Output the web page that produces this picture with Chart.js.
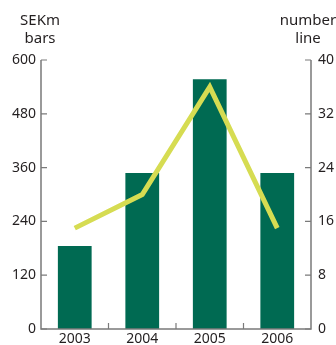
<!DOCTYPE html>
<html>
<head>
<meta charset="utf-8">
<script src="https://cdn.jsdelivr.net/npm/chart.js@4/dist/chart.umd.min.js"></script>
<style>
  html, body { margin: 0; padding: 0; background: #fff; }
  #wrap { width: 336px; height: 345px; }
</style>
</head>
<body>
<div id="wrap"><canvas id="chart" width="336" height="345"></canvas></div>
<script>
// Years on the x axis
const years = ['2003', '2004', '2005', '2006'];
// Bars, SEKm (left axis)
const sekm = [185, 348, 557, 348];
// Line, number (right axis)
const counts = [15, 20, 36, 15];
// Axis ticks
const leftTicks = [0, 120, 240, 360, 480, 600];
const rightTicks = [0, 8, 16, 24, 32, 40];

const axisGrey = '#7a7a7a';
const textColor = '#231f20';
const fontFamily = '"Noto Sans", "Open Sans", sans-serif';

// Axis lines and inward tick marks, plus the unit labels above each axis
const axisDecor = {
    id: 'axisDecor',
    afterDraw(chart) {
        const ctx = chart.ctx;
        const area = chart.chartArea;
        const yl = chart.scales.y;
        const yr = chart.scales.y2;
        const x = chart.scales.x;
        ctx.save();
        ctx.strokeStyle = axisGrey;
        ctx.lineWidth = 1.5;
        ctx.beginPath();
        ctx.moveTo(area.left, area.top);
        ctx.lineTo(area.left, area.bottom);
        ctx.lineTo(area.right, area.bottom);
        ctx.lineTo(area.right, area.top);
        ctx.stroke();

        ctx.lineWidth = 1.2;
        ctx.beginPath();
        leftTicks.forEach(v => {
            const py = yl.getPixelForValue(v);
            ctx.moveTo(area.left, py);
            ctx.lineTo(area.left + 6, py);
        });
        rightTicks.forEach(v => {
            const py = yr.getPixelForValue(v);
            ctx.moveTo(area.right, py);
            ctx.lineTo(area.right - 6, py);
        });
        for (let i = 1; i < years.length; i++) {
            const px = (x.getPixelForValue(i - 1) + x.getPixelForValue(i)) / 2;
            ctx.moveTo(px, area.bottom);
            ctx.lineTo(px, area.bottom - 6);
        }
        ctx.stroke();

        ctx.fillStyle = textColor;
        ctx.font = '15px ' + fontFamily;
        ctx.textAlign = 'center';
        ctx.textBaseline = 'middle';
        ctx.fillText('SEKm', 40, 21);
        ctx.fillText('bars', 40, 39);
        ctx.fillText('number', 308, 21);
        ctx.fillText('line', 308, 39);
        ctx.restore();
    }
};

const tickFont = { family: fontFamily, size: 14 };
const noGrid = { display: false, drawTicks: false };

new Chart(document.getElementById('chart').getContext('2d'), {
    data: {
        labels: years,
        datasets: [
            {
                type: 'line',
                data: counts,
                yAxisID: 'y2',
                borderColor: '#d6dc52',
                borderWidth: 5,
                pointRadius: 0,
                tension: 0,
                borderJoinStyle: 'miter',
                order: 0
            },
            {
                type: 'bar',
                data: sekm,
                yAxisID: 'y',
                backgroundColor: '#006a52',
                categoryPercentage: 1,
                barPercentage: 0.5,
                order: 1
            }
        ]
    },
    options: {
        responsive: false,
        animation: false,
        layout: { padding: { top: 60, left: 0, right: 0, bottom: 0 } },
        plugins: {
            legend: { display: false },
            tooltip: { enabled: false }
        },
        scales: {
            x: {
                offset: true,
                border: { display: false },
                grid: noGrid,
                ticks: { color: textColor, font: tickFont, padding: 2, maxRotation: 0 },
                afterFit(s) { s.height = 16; }
            },
            y: {
                position: 'left',
                min: 0,
                max: 600,
                border: { display: false },
                grid: noGrid,
                afterBuildTicks(s) { s.ticks = leftTicks.map(v => ({ value: v })); },
                ticks: { color: textColor, font: tickFont, padding: 5 },
                afterFit(s) { s.width = 41; }
            },
            y2: {
                position: 'right',
                min: 0,
                max: 40,
                border: { display: false },
                grid: noGrid,
                afterBuildTicks(s) { s.ticks = rightTicks.map(v => ({ value: v })); },
                ticks: { color: textColor, font: tickFont, padding: 7 },
                afterFit(s) { s.width = 25; }
            }
        }
    },
    plugins: [axisDecor]
});
</script>
</body>
</html>
